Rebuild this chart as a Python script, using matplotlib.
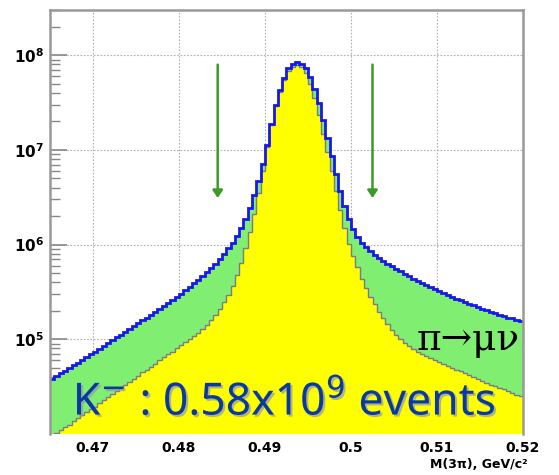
import numpy as np
import matplotlib.pyplot as plt
import matplotlib.patheffects as pe
from matplotlib.ticker import FixedLocator, LogLocator, NullFormatter

# M(3pi) histogram, 0.465..0.520 GeV in 0.5 MeV bins, values as log10(counts)
bin_lo = 0.465
bin_w = 0.0005

# all K- -> 3pi events (blue line, green band)
total_log10 = [
    4.58, 4.61, 4.64, 4.67, 4.70, 4.73, 4.75, 4.78, 4.81, 4.84,
    4.87, 4.90, 4.93, 4.96, 4.99, 5.02, 5.05, 5.08, 5.11, 5.14,
    5.17, 5.20, 5.23, 5.26, 5.29, 5.32, 5.35, 5.38, 5.42, 5.45,
    5.48, 5.52, 5.55, 5.59, 5.63, 5.67, 5.71, 5.75, 5.80, 5.85,
    5.90, 5.96, 6.02, 6.09, 6.17, 6.27, 6.39, 6.52, 6.67, 6.85,
    7.05, 7.27, 7.47, 7.63, 7.76, 7.86, 7.91, 7.93, 7.91, 7.86,
    7.77, 7.64, 7.49, 7.32, 7.13, 6.94, 6.75, 6.57, 6.41, 6.27,
    6.16, 6.08, 6.02, 5.97, 5.93, 5.89, 5.86, 5.83, 5.80, 5.77,
    5.74, 5.72, 5.69, 5.67, 5.64, 5.62, 5.59, 5.57, 5.55, 5.53,
    5.51, 5.49, 5.47, 5.45, 5.43, 5.41, 5.39, 5.37, 5.36, 5.34,
    5.32, 5.31, 5.29, 5.28, 5.26, 5.25, 5.23, 5.22, 5.20, 5.19,
]

# events without pi -> mu nu decay (yellow)
nodecay_log10 = [
    3.97, 4.01, 4.04, 4.07, 4.10, 4.14, 4.17, 4.20, 4.23, 4.26,
    4.29, 4.33, 4.36, 4.39, 4.42, 4.45, 4.49, 4.52, 4.55, 4.58,
    4.61, 4.65, 4.68, 4.71, 4.74, 4.78, 4.81, 4.84, 4.87, 4.91,
    4.94, 4.97, 5.00, 5.04, 5.07, 5.11, 5.15, 5.20, 5.26, 5.32,
    5.39, 5.47, 5.56, 5.68, 5.81, 5.96, 6.13, 6.32, 6.54, 6.78,
    7.03, 7.26, 7.46, 7.61, 7.74, 7.83, 7.88, 7.90, 7.87, 7.81,
    7.70, 7.55, 7.37, 7.17, 6.98, 6.78, 6.57, 6.36, 6.17, 6.01,
    5.88, 5.76, 5.64, 5.54, 5.45, 5.37, 5.29, 5.22, 5.16, 5.10,
    5.05, 5.00, 4.96, 4.93, 4.90, 4.87, 4.85, 4.82, 4.80, 4.78,
    4.76, 4.74, 4.72, 4.70, 4.68, 4.66, 4.64, 4.62, 4.60, 4.58,
    4.56, 4.54, 4.52, 4.51, 4.49, 4.47, 4.45, 4.43, 4.41, 4.40,
]

cut_x = [0.4845, 0.5025]
arrow_top, arrow_tip = 8.5e7, 2.9e6

x_ticks = [0.47, 0.48, 0.49, 0.50, 0.51, 0.52]
x_ticklabels = ['0.47', '0.48', '0.49', '0.5', '0.51', '0.52']
y_ticks = [1e5, 1e6, 1e7, 1e8]
y_ticklabels = [r'$\mathbf{10^{5}}$', r'$\mathbf{10^{6}}$', r'$\mathbf{10^{7}}$', r'$\mathbf{10^{8}}$']

total = 10 ** np.array(total_log10)
nodecay = 10 ** np.array(nodecay_log10)
edges = bin_lo + bin_w * np.arange(len(total) + 1)

fig = plt.figure(figsize=(5.59, 4.75), dpi=100)
ax = fig.add_axes([50 / 559, 1 - 434 / 475, 473 / 559, 424 / 475])
ax.set_yscale('log')
ax.set_xlim(edges[0], edges[-1])
ax.set_ylim(1e4, 3e8)

ax.stairs(total, edges, fill=True, baseline=1.0, color='#80ee70', zorder=2)
ax.stairs(nodecay, edges, fill=True, baseline=1.0, color='#ffff00', zorder=3)
ax.stairs(nodecay, edges, baseline=None, color='#7a7a8a', lw=1.0, zorder=4)
ax.stairs(total, edges, baseline=None, color='#1818e8', lw=2.0, zorder=5)

# grid under the fills
ax.set_axisbelow(True)
ax.grid(True, which='major', ls=(0, (1.5, 1.5)), color='#b0b0b0', lw=0.8)

for xc in cut_x:
    ax.annotate('', xy=(xc, arrow_tip), xytext=(xc, arrow_top),
                arrowprops=dict(arrowstyle='-|>,head_width=0.3,head_length=0.45',
                                color='#3d9a26', lw=1.8),
                zorder=6)

ax.xaxis.set_major_locator(FixedLocator(x_ticks))
ax.set_xticklabels(x_ticklabels, fontsize=10, fontweight='bold')
ax.tick_params(axis='x', length=0, pad=5)
ax.yaxis.set_major_locator(FixedLocator(y_ticks))
ax.set_yticklabels(y_ticklabels, fontsize=11)
ax.yaxis.set_minor_locator(LogLocator(base=10, subs=np.arange(2, 10), numticks=20))
ax.yaxis.set_minor_formatter(NullFormatter())
ax.tick_params(axis='y', which='major', direction='in', length=12, width=1.2,
               color='#888888', pad=4)
ax.tick_params(axis='y', which='minor', direction='in', length=7, width=1.0,
               color='#888888')

for side in ['left', 'top', 'right']:
    ax.spines[side].set_color('#999999')
    ax.spines[side].set_linewidth(1.8)
    ax.spines[side].set_zorder(7)
ax.spines['bottom'].set_visible(False)

ax.text(0.048, 0.045, r'K$^{-}$ : 0.58x10$^{9}$ events', transform=ax.transAxes,
        fontsize=32, family='Noto Sans', color='#0b3a9e', ha='left', va='baseline',
        zorder=8,
        path_effects=[pe.withSimplePatchShadow(offset=(1.5, -1.5), shadow_rgbFace='#9098b0',
                                               alpha=0.7)])
ax.text(0.776, 0.198, 'π→μν', transform=ax.transAxes, fontsize=27,
        family='DejaVu Serif', color='black', ha='left', va='baseline', zorder=8)

fig.text(0.944, 0.015, 'M(3π), GeV/c²', fontsize=9, fontweight='bold',
         ha='right', va='baseline')

fig.savefig('out.png', dpi=100)
